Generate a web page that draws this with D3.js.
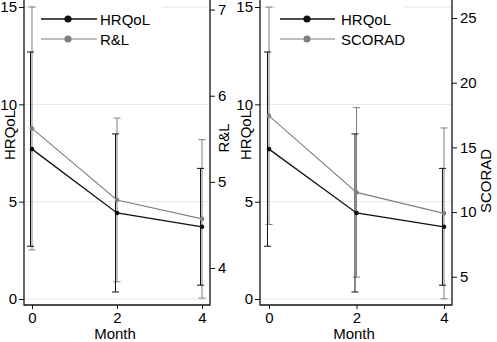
<!DOCTYPE html>
<meta charset="utf-8">
<head>
    <title>HRQoL vs R&L / SCORAD</title>
    <script src="https://d3js.org/d3.v7.min.js"></script>
</head>

<style>
body { margin: 0; background: #fff; }
text { font-family: "Liberation Sans", Arial, sans-serif; font-size: 15px; fill: #000; }
</style>

<body>

<svg></svg>

<script>

// data (mean and +/- SD)
let months = [0, 2, 4];
let hrqolMean = [7.70, 4.42, 3.71];
let hrqolSD = [4.99, 4.06, 3.00];
let rlMean = [5.62, 4.79, 4.57];
let rlSD = [1.41, 0.95, 0.92];
let scoradMean = [17.44, 11.52, 9.90];
let scoradSD = [8.40, 6.55, 6.60];

let leftTicks = [0, 5, 10, 15];
let rlTicks = [4, 5, 6, 7];
let scoradTicks = [5, 10, 15, 20, 25];
let monthTicks = [0, 2, 4];

let width = 497, height = 342;
let black = "#111", gray = "#808080", grid = "#e6e6e6";
let fmt = d3.format("d");

let svg = d3.select("svg")
    .attr("width", width)
    .attr("height", height);

function rows(mean, sd) {
  return months.map((m, i) => ({m: m, v: mean[i], lo: mean[i] - sd[i], hi: mean[i] + sd[i]}));
}

let panels = [
  {x0: 24, x1: 210, xdom: [-0.188, 4.188], name2: "R&L", mean2: rlMean, sd2: rlSD,
   ticks2: rlTicks, dom2: [3.64, 7.03], title2x: 229, title2y: 138,
   legLine: [41, 97], legDot: 68, legText: 100},
  {x0: 260, x1: 452, xdom: [-0.206, 4.183], name2: "SCORAD", mean2: scoradMean, sd2: scoradSD,
   ticks2: scoradTicks, dom2: [3.28, 25.85], title2x: 491, title2y: 181,
   legLine: [280, 335], legDot: 307, legText: 341}
];

panels.forEach(function(p) {
  let x = d3.scaleLinear().domain(p.xdom).range([p.x0, p.x1]);
  let y = d3.scaleLinear().domain([0, 15]).range([299, 7]);
  let y2 = d3.scaleLinear().domain(p.dom2).range([299, 7]);
  let g = svg.append("g");

  // gridlines
  g.selectAll(".grid").data(leftTicks).enter().append("line")
    .attr("x1", p.x0).attr("x2", p.x1)
    .attr("y1", d => y(d)).attr("y2", d => y(d))
    .attr("stroke", grid).attr("stroke-width", 1);

  // legend background
  g.append("rect")
    .attr("x", p.legLine[0] - 4).attr("y", 0)
    .attr("width", p.legText - p.legLine[0] + 66).attr("height", 48)
    .attr("fill", "#fff");

  // axes
  let axL = g.append("g").attr("transform", "translate(" + p.x0 + ",0)")
    .call(d3.axisLeft(y).tickValues(leftTicks).tickFormat(fmt).tickSize(5).tickPadding(2));
  let axR = g.append("g").attr("transform", "translate(" + p.x1 + ",0)")
    .call(d3.axisRight(y2).tickValues(p.ticks2).tickFormat(fmt).tickSize(5).tickPadding(3));
  let axB = g.append("g").attr("transform", "translate(0,305)")
    .call(d3.axisBottom(x).tickValues(monthTicks).tickFormat(fmt).tickSize(4).tickPadding(3));
  [axL, axR, axB].forEach(function(a) {
    a.select(".domain").remove();
    a.selectAll("line").attr("stroke", black);
    a.selectAll("text").attr("font-size", 15).attr("font-family", "Liberation Sans, Arial, sans-serif").attr("fill", "#000");
  });
  g.append("line").attr("x1", p.x0).attr("x2", p.x0).attr("y1", 0).attr("y2", 305.5).attr("stroke", black).attr("stroke-width", 1.3);
  g.append("line").attr("x1", p.x1).attr("x2", p.x1).attr("y1", 0).attr("y2", 305.5).attr("stroke", black).attr("stroke-width", 1.3);
  g.append("line").attr("x1", p.x0).attr("x2", p.x1).attr("y1", 305).attr("y2", 305).attr("stroke", black).attr("stroke-width", 1.3);

  // axis titles
  g.append("text").attr("transform", "translate(" + (p.x0 - 9) + ",135) rotate(-90)")
    .attr("text-anchor", "middle").text("HRQoL");
  g.append("text").attr("transform", "translate(" + p.title2x + "," + p.title2y + ") rotate(-90)")
    .attr("text-anchor", "middle").text(p.name2);
  g.append("text").attr("x", (p.x0 + p.x1) / 2 - 2).attr("y", 339)
    .attr("text-anchor", "middle").text("Month");

  let series = [
    {data: rows(p.mean2, p.sd2), sc: y2, col: gray, lw: 1.1, off: 0},
    {data: rows(hrqolMean, hrqolSD), sc: y, col: black, lw: 1.3, off: -0.035}
  ];

  series.forEach(function(s) {
    let eb = g.append("g");
    s.data.forEach(function(d) {
      let cx = x(d.m + s.off);
      eb.append("line").attr("x1", cx).attr("x2", cx).attr("y1", s.sc(d.lo)).attr("y2", s.sc(d.hi))
        .attr("stroke", s.col).attr("stroke-width", 1);
      [d.lo, d.hi].forEach(function(v) {
        eb.append("line").attr("x1", cx - 3.5).attr("x2", cx + 3.5).attr("y1", s.sc(v)).attr("y2", s.sc(v))
          .attr("stroke", s.col).attr("stroke-width", 1);
      });
    });
  });

  series.forEach(function(s) {
    g.append("path").datum(s.data)
      .attr("d", d3.line().x(d => x(d.m)).y(d => s.sc(d.v)))
      .attr("fill", "none").attr("stroke", s.col).attr("stroke-width", s.lw);
    g.selectAll(null).data(s.data).enter().append("circle")
      .attr("cx", d => x(d.m)).attr("cy", d => s.sc(d.v)).attr("r", 2.3)
      .attr("fill", s.col);
  });

  // legend
  let leg = [["HRQoL", black, 1.5, 19], [p.name2, gray, 1.2, 39]];
  leg.forEach(function(l) {
    g.append("line").attr("x1", p.legLine[0]).attr("x2", p.legLine[1]).attr("y1", l[3]).attr("y2", l[3])
      .attr("stroke", l[1]).attr("stroke-width", l[2]);
    g.append("circle").attr("cx", p.legDot).attr("cy", l[3]).attr("r", 3.6).attr("fill", l[1]);
    g.append("text").attr("x", p.legText).attr("y", l[3] + 5.5).text(l[0]);
  });
});

</script>

</body>
